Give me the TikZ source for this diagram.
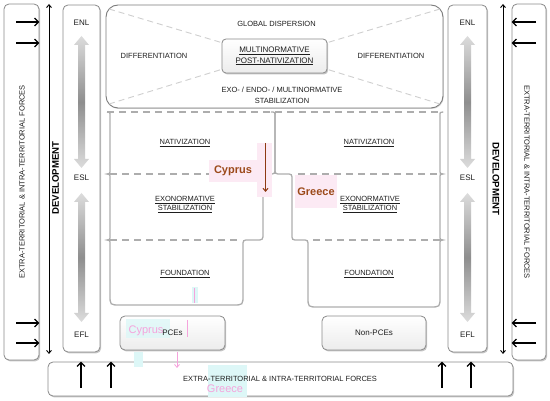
\documentclass[tikz,border=0pt]{standalone}
\usepackage{fontspec}
\setmainfont{Liberation Sans}
\usetikzlibrary{arrows.meta,shadows,calc}
\definecolor{BoxGray}{HTML}{8A8A8A}
\definecolor{StageGray}{HTML}{ADADAD}
\definecolor{DiagGray}{HTML}{CFCFCF}
\definecolor{DarkText}{HTML}{1E1E1E}
\definecolor{CaseBrown}{HTML}{9C4A1A}
\definecolor{CaseArrow}{HTML}{8E3A12}
\definecolor{CasePink}{HTML}{FCEAF4}
\definecolor{GhostPink}{HTML}{F5A3DC}
\definecolor{GhostCyan}{HTML}{DDF7F7}
\definecolor{ArrowLight}{HTML}{DCDCDC}
\definecolor{ArrowDark}{HTML}{8E8E8E}
\definecolor{PaleGray}{HTML}{ECECEC}
\tikzset{
  forcesbox/.style={rounded corners=5pt, draw=BoxGray, fill=white, line width=0.8pt, inner sep=0pt, drop shadow={shadow xshift=1.2pt, shadow yshift=-1.4pt, opacity=0.45}},
  trackbox/.style={rounded corners=5pt, draw=BoxGray, fill=white, line width=0.8pt, inner sep=0pt, drop shadow={shadow xshift=1.2pt, shadow yshift=-1.4pt, opacity=0.45}},
  topbox/.style={rounded corners=12pt, draw=BoxGray!90!black, fill=white, line width=0.9pt, inner sep=0pt, drop shadow={shadow xshift=0.8pt, shadow yshift=-1pt, opacity=0.3}},
  centerbox/.style={rounded corners=4pt, draw=BoxGray, top color=white, bottom color=PaleGray, line width=0.8pt, align=center, inner sep=0pt, font=\fontsize{8}{10.5}\selectfont, text=DarkText, drop shadow={shadow xshift=1.2pt, shadow yshift=-1.4pt, opacity=0.45}},
  pcebox/.style={rounded corners=5pt, draw=BoxGray, top color=white, bottom color=PaleGray, line width=0.8pt, inner sep=0pt, drop shadow={shadow xshift=1.2pt, shadow yshift=-1.4pt, opacity=0.45}},
  lbl/.style={font=\fontsize{7.5}{9}\selectfont, text=DarkText, inner sep=1pt, align=center},
  tracklbl/.style={font=\fontsize{8}{9}\selectfont, text=DarkText, inner sep=1pt},
  devlbl/.style={font=\bfseries\fontsize{9.6}{11}\selectfont, inner sep=0pt},
  casename/.style={font=\bfseries\fontsize{11}{13}\selectfont, text=CaseBrown, inner sep=0pt},
  ghostname/.style={font=\fontsize{11}{13}\selectfont, text=GhostPink, inner sep=0pt},
  stageline/.style={draw=StageGray, line width=1.3pt},
  stagedash/.style={draw=StageGray, line width=1.3pt, dash pattern=on 7pt off 5pt},
  diagdash/.style={draw=DiagGray, line width=0.9pt, dash pattern=on 6pt off 4pt},
  forcearrow/.style={-{Straight Barb[length=4pt,width=8pt]}, line width=1.2pt, draw=black},
  devarrow/.style={{Straight Barb[length=3pt,width=5pt]}-{Straight Barb[length=3pt,width=5pt]}, line width=0.9pt, draw=black},
  casearrow/.style={-{Straight Barb[length=3pt,width=5pt]}, line width=1pt, draw=CaseArrow}
}

\begin{document}
\begin{tikzpicture}[x=1pt,y=-1pt]
\useasboundingbox (0,0) rectangle (550,401);

% forces from outside and inside
\node[forcesbox, minimum width=35pt, minimum height=356pt] (lforces) at (21.5,182) {};
\node[forcesbox, minimum width=34pt, minimum height=356pt] (rforces) at (529,182) {};
\node[forcesbox, minimum width=465pt, minimum height=34pt] (bforces) at (280.5,379) {};
\node[lbl, rotate=90] (lforcestxt) at (22,182) {EXTRA-TERRITORIAL \& INTRA-TERRITORIAL FORCES};
\node[lbl, rotate=-90] (rforcestxt) at (527,182) {EXTRA-TERRITORIAL \& INTRA-TERRITORIAL FORCES};
\foreach \ay [count=\i] in {22,43,323,343} {
  \coordinate (la\i) at (16,\ay);
  \coordinate (ra\i) at (536,\ay);
  \draw[forcearrow] (la\i) -- (la\i -| lforces.east);
  \draw[forcearrow] (ra\i) -- (ra\i -| rforces.west);
}
\foreach \ax [count=\i] in {81,111,442,471} {
  \coordinate (ba\i) at (\ax,388);
  \draw[forcearrow] (ba\i) -- (ba\i |- bforces.north);
}

% development
\coordinate (ldevtop) at (49,4);
\coordinate (ldevbot) at (49,354);
\coordinate (rdevtop) at (503,4);
\coordinate (rdevbot) at (503,354);
\draw[devarrow] (ldevtop) -- (ldevbot);
\draw[devarrow] (rdevtop) -- (rdevbot);
\node[devlbl, rotate=90] (ldev) at (55.5,178) {DEVELOPMENT};
\node[devlbl, rotate=-90] (rdev) at (496,179) {DEVELOPMENT};

% ENL / ESL / EFL tracks
\node[trackbox, minimum width=37pt, minimum height=347pt] (ltrack) at (81.5,178.5) {};
\node[trackbox, minimum width=39pt, minimum height=347pt] (rtrack) at (467.5,178.5) {};
\foreach \cx in {81.5,467.5} {
  \foreach \ta/\tb in {36/168,193/322} {
    \shade[top color=ArrowLight, bottom color=ArrowLight, middle color=ArrowDark]
      (\cx,\ta) -- (\cx+7.5,\ta+9) -- (\cx+3.5,\ta+9) -- (\cx+3.5,\tb-9) -- (\cx+7.5,\tb-9)
      -- (\cx,\tb) -- (\cx-7.5,\tb-9) -- (\cx-3.5,\tb-9) -- (\cx-3.5,\ta+9) -- (\cx-7.5,\ta+9) -- cycle;
  }
}
\node[tracklbl] (lenl) at (81.5,23) {ENL};
\node[tracklbl] (lesl) at (81.5,178) {ESL};
\node[tracklbl] (lefl) at (81.5,335) {EFL};
\node[tracklbl] (renl) at (467.5,23) {ENL};
\node[tracklbl] (resl) at (467.5,178) {ESL};
\node[tracklbl] (refl) at (467.5,335) {EFL};

% global dispersion
\node[topbox, minimum width=337pt, minimum height=103pt] (dispersion) at (274.5,56.5) {};
\coordinate (dtl) at (109,9);
\coordinate (dbl) at (109,104);
\coordinate (dtr) at (440,9);
\coordinate (dbr) at (440,104);
\node[centerbox, minimum width=105pt, minimum height=34pt] (postnat) at (274.5,56) {\underline{MULTINORMATIVE}\\\underline{POST-NATIVIZATION}};
\draw[diagdash] (dtl) -- ($(postnat.north west)+(0,4)$);
\draw[diagdash] (dbl) -- ($(postnat.south west)+(0,-4)$);
\draw[diagdash] (dtr) -- ($(postnat.north east)+(0,4)$);
\draw[diagdash] (dbr) -- ($(postnat.south east)+(0,-4)$);
\node[lbl] (global) at (276.5,24) {GLOBAL DISPERSION};
\node[lbl] (ldiff) at (154,56) {DIFFERENTIATION};
\node[lbl] (rdiff) at (391,56) {DIFFERENTIATION};
\node[lbl, font=\fontsize{7.5}{11.5}\selectfont] (multistab) at (282,95.5) {EXO- / ENDO- / MULTINORMATIVE\\STABILIZATION};

% stages, left column (PCEs)
\draw[stageline]
  (107,112) .. controls (110,112) .. (110,116)
  -- (110,169) .. controls (110,174) .. (107,174) .. controls (110,174) .. (110,179)
  -- (110,235) .. controls (110,240) .. (107,240) .. controls (110,240) .. (110,245)
  -- (110,295) .. controls (110,305) .. (120,305)
  -- (233,305) .. controls (243,305) .. (243,295)
  -- (243,246) .. controls (243,240) .. (249,240)
  -- (256,240) .. controls (263,240) .. (263,233)
  -- (263,181) .. controls (263,174) .. (269,174)
  .. controls (275,174) .. (275,168)
  -- (275,117) .. controls (275,112) .. (271,112);
% stages, right column (non-PCEs)
\draw[stageline]
  (279,112) .. controls (275,112) .. (275,117)
  -- (275,168) .. controls (275,174) .. (281,174)
  -- (286,174) .. controls (292,174) .. (292,180)
  -- (292,234) .. controls (292,240) .. (298,240)
  -- (302,240) .. controls (308,240) .. (308,246)
  -- (308,297) .. controls (308,307) .. (318,307)
  -- (430,307) .. controls (440,307) .. (440,297)
  -- (440,245) .. controls (440,240) .. (443,240) .. controls (440,240) .. (440,235)
  -- (440,179) .. controls (440,174) .. (443,174) .. controls (440,174) .. (440,169)
  -- (440,116) .. controls (440,112) .. (443,112);
\draw[stagedash] (107,112) -- (443,112);
\draw[stagedash] (110,174) -- (256,174);
\draw[stagedash] (298,174) -- (440,174);
\draw[stagedash] (110,240) -- (238,240);
\draw[stagedash] (313,240) -- (440,240);
\node[lbl] (lnat) at (185,143) {\underline{NATIVIZATION}};
\node[lbl] (rnat) at (369,143) {\underline{NATIVIZATION}};
\node[lbl] (lexo) at (185,204.5) {\underline{EXONORMATIVE}\\\underline{STABILIZATION}};
\node[lbl] (rexo) at (370,204.5) {\underline{EXONORMATIVE}\\\underline{STABILIZATION}};
\node[lbl] (lfound) at (185,274) {\underline{FOUNDATION}};
\node[lbl] (rfound) at (369,274) {\underline{FOUNDATION}};

% the two cases
\fill[CasePink] (257,143) rectangle (272,197);
\node[casename, fill=CasePink, minimum width=49pt, minimum height=22pt] (cyprus) at (233,171) {Cyprus};
\coordinate (cyptop) at (265.5,143);
\coordinate (cypbot) at (265.5,192);
\draw[casearrow] (cyptop) -- (cypbot);
\node[casename, fill=CasePink, minimum width=42pt, minimum height=33pt] (greece) at (316,192) {Greece};

% PCEs / non-PCEs
\node[pcebox, minimum width=105pt, minimum height=34pt] (pce) at (172.5,333) {};
\node[pcebox, minimum width=104pt, minimum height=34pt] (nonpce) at (374,333) {};
\fill[GhostCyan, opacity=0.8] (126,319) rectangle (170,338);
\fill[GhostCyan] (192,287) rectangle (198,303);
\draw[GhostPink, line width=0.8pt] (194.5,288) -- (194.5,303);
\draw[GhostPink, line width=0.8pt] (187,320) -- (187,337);
\node[ghostname] (ghostcyp) at (146,331) {Cyprus};
\fill[GhostCyan] (134,352) rectangle (143,367);
\coordinate (ghosttop) at (177,352);
\coordinate (ghostbot) at (177,368);
\draw[-{Straight Barb[length=3pt,width=5pt]}, GhostPink, line width=0.8pt] (ghosttop) -- (ghostbot);
\fill[GhostCyan] (208,365) rectangle (247,397);
\node[ghostname] (ghostgre) at (225,389) {Greece};
\node[lbl, font=\fontsize{8}{9}\selectfont] (pcetxt) at (pce) {PCEs};
\node[lbl, font=\fontsize{8}{9}\selectfont] (nonpcetxt) at (nonpce) {Non-PCEs};
\node[lbl] (bforcestxt) at (280,379) {EXTRA-TERRITORIAL \& INTRA-TERRITORIAL FORCES};
\end{tikzpicture}
\end{document}
